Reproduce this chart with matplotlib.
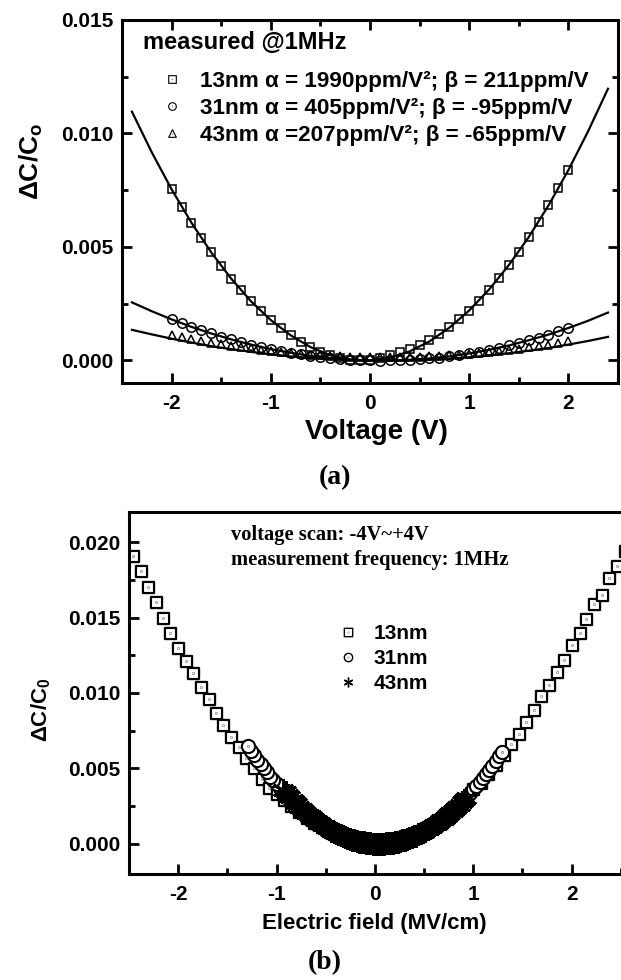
import numpy as np
import matplotlib
matplotlib.use("Agg")
import matplotlib.pyplot as plt
from matplotlib.lines import Line2D
from matplotlib.path import Path
from matplotlib.transforms import Affine2D
from matplotlib.ticker import MultipleLocator, FormatStrFormatter

# --------------------------------------------------------
# (a) data: dC/C0 vs voltage, measured @1MHz
# --------------------------------------------------------
volt = [-2.0, -1.9, -1.8, -1.7, -1.6, -1.5, -1.4, -1.3, -1.2, -1.1,
        -1.0, -0.9, -0.8, -0.7, -0.6, -0.5, -0.4, -0.3, -0.2, -0.1,
        0.0, 0.1, 0.2, 0.3, 0.4, 0.5, 0.6, 0.7, 0.8, 0.9,
        1.0, 1.1, 1.2, 1.3, 1.4, 1.5, 1.6, 1.7, 1.8, 1.9, 2.0]

dc_13nm_a = [0.00754, 0.00678, 0.00607, 0.00539, 0.00476, 0.00416, 0.00361, 0.00309, 0.00261, 0.00218,
             0.00178, 0.00142, 0.00111, 0.00083, 0.00059, 0.00039, 0.00023, 0.00012, 0.00004, 0.00000,
             0.00001, 0.00010, 0.00022, 0.00036, 0.00052, 0.00070, 0.00092, 0.00117, 0.00146, 0.00181,
             0.00220, 0.00264, 0.00312, 0.00364, 0.00420, 0.00480, 0.00543, 0.00611, 0.00683, 0.00759, 0.00838]

dc_31nm_a = [0.00181, 0.00164, 0.00148, 0.00133, 0.00119, 0.00105, 0.00093, 0.00081, 0.00070, 0.00060,
             0.00050, 0.00041, 0.00034, 0.00027, 0.00020, 0.00015, 0.00010, 0.00007, 0.00004, 0.00001,
             0.00000, -0.00001, 0.00000, 0.00001, 0.00003, 0.00005, 0.00009, 0.00013, 0.00018, 0.00024,
             0.00031, 0.00039, 0.00047, 0.00056, 0.00066, 0.00077, 0.00089, 0.00101, 0.00114, 0.00128, 0.00143]

dc_43nm_a = [0.00111, 0.00102, 0.00094, 0.00086, 0.00078, 0.00071, 0.00065, 0.00059, 0.00053, 0.00047,
             0.00042, 0.00038, 0.00033, 0.00030, 0.00026, 0.00024, 0.00021, 0.00019, 0.00017, 0.00016,
             0.00015, 0.00015, 0.00015, 0.00015, 0.00016, 0.00017, 0.00019, 0.00021, 0.00023, 0.00026,
             0.00029, 0.00033, 0.00037, 0.00042, 0.00047, 0.00052, 0.00058, 0.00064, 0.00070, 0.00077, 0.00085]

# fitted curves
volt_fit = [-2.4, -2.2, -2.0, -1.8, -1.6, -1.4, -1.2, -1.0, -0.8, -0.6, -0.4, -0.2, 0.0,
            0.2, 0.4, 0.6, 0.8, 1.0, 1.2, 1.4, 1.6, 1.8, 2.0, 2.2, 2.4]
fit_13nm = [0.01096, 0.00917, 0.00754, 0.00607, 0.00476, 0.00361, 0.00261, 0.00178, 0.00111, 0.00059,
            0.00023, 0.00004, 0.00000, 0.00012, 0.00040, 0.00084, 0.00144, 0.00220, 0.00312, 0.00420,
            0.00543, 0.00683, 0.00838, 0.01010, 0.01197]
fit_31nm = [0.00256, 0.00217, 0.00181, 0.00148, 0.00119, 0.00093, 0.00070, 0.00050, 0.00034, 0.00020,
            0.00010, 0.00004, 0.00000, 0.00000, 0.00003, 0.00009, 0.00018, 0.00031, 0.00047, 0.00066,
            0.00089, 0.00114, 0.00143, 0.00175, 0.00211]
fit_43nm = [0.00135, 0.00115, 0.00096, 0.00079, 0.00063, 0.00050, 0.00038, 0.00027, 0.00018, 0.00011,
            0.00006, 0.00002, 0.00000, -0.00001, 0.00001, 0.00004, 0.00008, 0.00014, 0.00022, 0.00032,
            0.00043, 0.00055, 0.00070, 0.00086, 0.00104]

labels_a = ["13nm α = 1990ppm/V²; β = 211ppm/V",
            "31nm α = 405ppm/V²; β = -95ppm/V",
            "43nm α =207ppm/V²; β = -65ppm/V"]

# --------------------------------------------------------
# (b) data: dC/C0 vs electric field
# --------------------------------------------------------
field_13nm = [-2.46, -2.38, -2.31, -2.23, -2.15, -2.08, -2.00, -1.92, -1.85, -1.77,
              -1.69, -1.62, -1.54, -1.46, -1.38, -1.31, -1.23, -1.15, -1.08, -1.00,
              -0.92, -0.85, -0.77, -0.69, -0.62, -0.54, -0.46, -0.38, -0.31, -0.23,
              -0.15, -0.08, 0.00, 0.08, 0.15, 0.23, 0.31, 0.38, 0.46, 0.54,
              0.62, 0.69, 0.77, 0.85, 0.92, 1.00, 1.08, 1.15, 1.23, 1.31,
              1.38, 1.46, 1.54, 1.62, 1.69, 1.77, 1.85, 1.92, 2.00, 2.08,
              2.15, 2.23, 2.31, 2.38, 2.46, 2.54]
dc_13nm_b = [0.0191, 0.0181, 0.0170, 0.0160, 0.0150, 0.0140, 0.0130, 0.0121, 0.0113, 0.0104,
             0.0096, 0.0087, 0.0079, 0.0071, 0.0064, 0.0057, 0.0050, 0.0043, 0.0037, 0.0033,
             0.0029, 0.0025, 0.0021, 0.0017, 0.0014, 0.0011, 0.0008, 0.0005, 0.0003, 0.0002,
             0.0001, 0.00002, 0.0, 0.00001, 0.00006, 0.00015, 0.0003, 0.00048, 0.0007, 0.0010,
             0.0013, 0.0017, 0.0021, 0.0025, 0.0030, 0.0036, 0.0040, 0.0046, 0.0052, 0.0059,
             0.0066, 0.0073, 0.0081, 0.0089, 0.0098, 0.0105, 0.0114, 0.0122, 0.0132, 0.0140,
             0.0149, 0.0159, 0.0165, 0.0176, 0.0184, 0.0194]

field_31nm = [-1.290, -1.258, -1.226, -1.194, -1.161, -1.129, -1.097, -1.065, -1.032, -1.000,
              -0.968, -0.935, -0.903, -0.871, -0.839, -0.806, -0.774, -0.742, -0.710, -0.677,
              -0.645, -0.613, -0.581, -0.548, -0.516, -0.484, -0.452, -0.419, -0.387, -0.355,
              -0.323, -0.290, -0.258, -0.226, -0.194, -0.161, -0.129, -0.097, -0.065, -0.032,
              0.000, 0.032, 0.065, 0.097, 0.129, 0.161, 0.194, 0.226, 0.258, 0.290,
              0.323, 0.355, 0.387, 0.419, 0.452, 0.484, 0.516, 0.548, 0.581, 0.613,
              0.645, 0.677, 0.710, 0.742, 0.774, 0.806, 0.839, 0.871, 0.903, 0.935,
              0.968, 1.000, 1.032, 1.065, 1.097, 1.129, 1.161, 1.194, 1.226, 1.258, 1.290]
dc_31nm_b = [0.00648, 0.00617, 0.00587, 0.00557, 0.00528, 0.00500, 0.00473, 0.00446, 0.00420, 0.00395,
             0.00371, 0.00347, 0.00325, 0.00303, 0.00281, 0.00261, 0.00241, 0.00222, 0.00204, 0.00187,
             0.00170, 0.00154, 0.00139, 0.00125, 0.00112, 0.00099, 0.00087, 0.00076, 0.00065, 0.00056,
             0.00047, 0.00039, 0.00031, 0.00025, 0.00019, 0.00014, 0.00009, 0.00006, 0.00003, 0.00001,
             0.00000, -0.00001, 0.00000, 0.00001, 0.00003, 0.00005, 0.00009, 0.00013, 0.00018, 0.00024,
             0.00031, 0.00039, 0.00047, 0.00056, 0.00066, 0.00077, 0.00089, 0.00101, 0.00114, 0.00128,
             0.00143, 0.00159, 0.00175, 0.00192, 0.00210, 0.00229, 0.00249, 0.00270, 0.00291, 0.00313,
             0.00336, 0.00360, 0.00384, 0.00410, 0.00436, 0.00463, 0.00491, 0.00519, 0.00549, 0.00579, 0.00610]

field_43nm = [-0.930, -0.907, -0.884, -0.860, -0.837, -0.814, -0.791, -0.767, -0.744, -0.721,
              -0.698, -0.674, -0.651, -0.628, -0.605, -0.581, -0.558, -0.535, -0.512, -0.488,
              -0.465, -0.442, -0.419, -0.395, -0.372, -0.349, -0.326, -0.302, -0.279, -0.256,
              -0.233, -0.209, -0.186, -0.163, -0.140, -0.116, -0.093, -0.070, -0.047, -0.023,
              0.000, 0.023, 0.047, 0.070, 0.093, 0.116, 0.140, 0.163, 0.186, 0.209,
              0.233, 0.256, 0.279, 0.302, 0.326, 0.349, 0.372, 0.395, 0.419, 0.442,
              0.465, 0.488, 0.512, 0.535, 0.558, 0.581, 0.605, 0.628, 0.651, 0.674,
              0.698, 0.721, 0.744, 0.767, 0.791, 0.814, 0.837, 0.860, 0.884, 0.907, 0.930]
dc_43nm_b = [0.00357, 0.00341, 0.00324, 0.00308, 0.00292, 0.00277, 0.00262, 0.00247, 0.00233, 0.00219,
             0.00206, 0.00193, 0.00181, 0.00169, 0.00157, 0.00146, 0.00135, 0.00125, 0.00115, 0.00105,
             0.00096, 0.00087, 0.00079, 0.00071, 0.00063, 0.00056, 0.00050, 0.00044, 0.00038, 0.00032,
             0.00027, 0.00023, 0.00019, 0.00015, 0.00011, 0.00009, 0.00006, 0.00004, 0.00002, 0.00001,
             0.00000, -0.00000, -0.00001, -0.00000, 0.00001, 0.00002, 0.00004, 0.00006, 0.00008, 0.00011,
             0.00014, 0.00018, 0.00022, 0.00027, 0.00032, 0.00037, 0.00043, 0.00049, 0.00055, 0.00062,
             0.00070, 0.00078, 0.00086, 0.00095, 0.00104, 0.00113, 0.00123, 0.00133, 0.00144, 0.00155,
             0.00167, 0.00179, 0.00191, 0.00204, 0.00217, 0.00231, 0.00245, 0.00259, 0.00274, 0.00290, 0.00305]

labels_b = ["13nm", "31nm", "43nm"]

# --------------------------------------------------------
# styling
# --------------------------------------------------------
plt.rcParams["font.family"] = ["Liberation Sans", "DejaVu Sans"]
plt.rcParams["font.weight"] = "bold"
plt.rcParams["axes.labelweight"] = "bold"
plt.rcParams["mathtext.default"] = "regular"
plt.rcParams["axes.unicode_minus"] = False
SERIF = ["Liberation Serif", "DejaVu Serif"]


def with_dot(outline, dy=0.0):
    # open marker with a small dot in the middle
    return Path.make_compound_path(outline, Path.circle((0, dy), 0.03))


square_dot = with_dot(Path.unit_rectangle().transformed(Affine2D().translate(-0.5, -0.5).scale(2)))
circle_dot = with_dot(Path.unit_circle())
triangle_dot = with_dot(Path([(0, 1), (-1, -1), (1, -1), (0, 1)],
                             [Path.MOVETO, Path.LINETO, Path.LINETO, Path.CLOSEPOLY]), dy=-0.25)
asterisk = (6, 2, 0)

fig = plt.figure(figsize=(6.21, 9.8), dpi=100)

# --------------------------------------------------------
# (a)
# --------------------------------------------------------
ax1 = fig.add_axes([0.1965, 0.609, 0.7985, 0.3706])
for fit in (fit_13nm, fit_31nm, fit_43nm):
    ax1.plot(volt_fit, fit, color="k", lw=1.6, zorder=2)

ax1.plot(volt, dc_13nm_a, ls="none", marker="s", ms=6.2, mfc="none", mec="k", mew=1.1, zorder=3)
ax1.plot(volt, dc_31nm_a, ls="none", marker="o", ms=6.8, mfc="none", mec="k", mew=1.1, zorder=3)
ax1.plot(volt, dc_43nm_a, ls="none", marker="^", ms=5.8, mfc="none", mec="k", mew=1.1, zorder=3)

ax1.set_xlim(-2.5, 2.5)
ax1.set_ylim(-0.001, 0.015)
ax1.xaxis.set_major_locator(MultipleLocator(1))
ax1.xaxis.set_minor_locator(MultipleLocator(0.5))
ax1.yaxis.set_major_locator(MultipleLocator(0.005))
ax1.yaxis.set_minor_locator(MultipleLocator(0.0025))
ax1.yaxis.set_major_formatter(FormatStrFormatter("%.3f"))
ax1.tick_params(which="both", direction="in", top=True, right=True, width=2)
ax1.tick_params(which="major", length=7, labelsize=15, pad=6)
ax1.tick_params(which="minor", length=4)
ax1.tick_params(axis="x", which="major", pad=8)
for s in ax1.spines.values():
    s.set_linewidth(2.2)

ax1.set_xlabel("Voltage (V)", fontsize=20)
ax1.xaxis.set_label_coords(0.514, -0.1)
ax1.set_ylabel("ΔC/C$_o$", fontsize=19)
ax1.yaxis.set_label_coords(-0.155, 0.61)

ax1.text(0.042, 0.937, "measured @1MHz", transform=ax1.transAxes,
         fontsize=17, ha="left", va="center")

handles_a = [
    Line2D([], [], ls="none", marker=square_dot, ms=5.5, mfc="white", mec="k", mew=0.8),
    Line2D([], [], ls="none", marker=circle_dot, ms=5.5, mfc="white", mec="k", mew=0.8),
    Line2D([], [], ls="none", marker=triangle_dot, ms=5.5, mfc="white", mec="k", mew=0.8),
]
ax1.legend(handles_a, labels_a, loc="upper left", bbox_to_anchor=(0.0714, 0.86),
           frameon=False, fontsize=16.2, handlelength=1.3, handletextpad=0.6,
           labelspacing=0.26, borderpad=0, borderaxespad=0)

fig.text(0.539, 0.513, "(a)", family=SERIF, fontsize=20, ha="center", va="center")

# --------------------------------------------------------
# (b)
# --------------------------------------------------------
ax2 = fig.add_axes([0.2077, 0.1082, 0.8, 0.3694])
ax2.plot(field_13nm, dc_13nm_b, ls="none", marker=square_dot, ms=8,
         mfc="white", mec="k", mew=1.6, zorder=2)
# outer points drawn last so they sit on top
order = np.argsort(np.abs(field_31nm), kind="stable")
ax2.plot(np.array(field_31nm)[order], np.array(dc_31nm_b)[order], ls="none",
         marker=circle_dot, ms=9.5, mfc="white", mec="k", mew=1.5, zorder=3)
ax2.plot(field_43nm, dc_43nm_b, ls="none", marker=asterisk, ms=16,
         color="k", mew=2.0, zorder=4)

ax2.set_xlim(-2.5, 2.55)
ax2.set_ylim(-0.002, 0.022)
ax2.xaxis.set_major_locator(MultipleLocator(1))
ax2.xaxis.set_minor_locator(MultipleLocator(0.5))
ax2.yaxis.set_major_locator(MultipleLocator(0.005))
ax2.yaxis.set_minor_locator(MultipleLocator(0.0025))
ax2.yaxis.set_major_formatter(FormatStrFormatter("%.3f"))
ax2.tick_params(which="both", direction="in", top=False, right=False, width=2)
ax2.tick_params(which="major", length=7, labelsize=15, pad=6)
ax2.tick_params(which="minor", length=4)
ax2.tick_params(axis="x", which="major", pad=8)
for s in ax2.spines.values():
    s.set_linewidth(2.2)

ax2.set_xlabel("Electric field (MV/cm)", fontsize=16)
ax2.xaxis.set_label_coords(0.493, -0.108)
ax2.set_ylabel("ΔC/C$_0$", fontsize=16)
ax2.yaxis.set_label_coords(-0.153, 0.453)

ax2.text(0.205, 0.936, "voltage scan: -4V~+4V", transform=ax2.transAxes,
         family=SERIF, fontsize=14.8, ha="left", va="center")
ax2.text(0.205, 0.867, "measurement frequency: 1MHz", transform=ax2.transAxes,
         family=SERIF, fontsize=14.8, ha="left", va="center")

handles_b = [
    Line2D([], [], ls="none", marker=square_dot, ms=6, mfc="white", mec="k", mew=1.0),
    Line2D([], [], ls="none", marker=circle_dot, ms=6, mfc="white", mec="k", mew=1.0),
    Line2D([], [], ls="none", marker=asterisk, ms=7, color="k", mew=1.0),
]
ax2.legend(handles_b, labels_b, loc="upper left", bbox_to_anchor=(0.41, 0.691),
           frameon=False, fontsize=15, handlelength=1.5, handletextpad=0.45,
           labelspacing=0.3, borderpad=0, borderaxespad=0)

fig.text(0.523, 0.018, "(b)", family=SERIF, fontsize=20, ha="center", va="center")

fig.savefig("out.png", dpi=100)
plt.close(fig)
